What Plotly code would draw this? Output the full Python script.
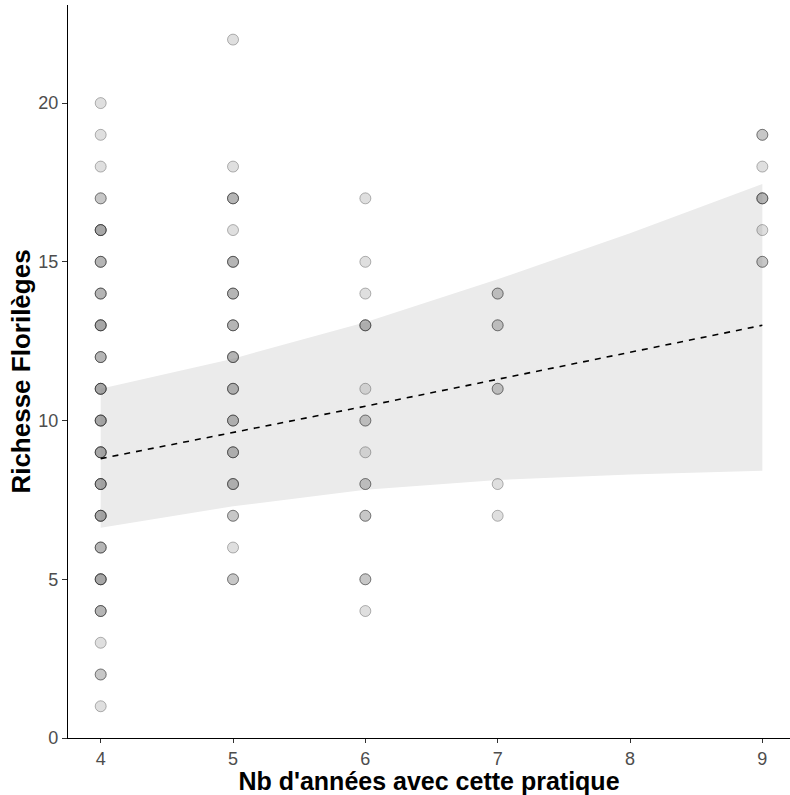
import plotly.graph_objects as go

# Observations: (years, richness, count of overlapping observations)
x4_y = [1, 2, 3, 4, 5, 6, 7, 8, 9, 10, 11, 12, 13, 14, 15, 16, 17, 18, 19, 20]
x4_n = [1, 2, 1, 3, 4, 3, 4, 4, 4, 4, 4, 3, 4, 3, 3, 4, 2, 1, 1, 1]
x5_y = [5, 6, 7, 8, 9, 10, 11, 12, 13, 14, 15, 16, 17, 18, 22]
x5_n = [2, 1, 2, 3, 3, 3, 3, 3, 3, 3, 3, 1, 3, 1, 1]
x6_y = [4, 5, 7, 8, 9, 10, 11, 13, 14, 15, 17]
x6_n = [1, 2, 2, 2, 1, 2, 1, 3, 1, 1, 1]
x7_y = [7, 8, 11, 13, 14]
x7_n = [1, 1, 2, 2, 2]
x9_y = [15, 16, 17, 18, 19]
x9_n = [2, 1, 3, 1, 2]

# Fitted model and confidence band
fit_x = [4, 5, 6, 7, 8, 9]
fit_y = [8.8, 9.62, 10.45, 11.3, 12.15, 13.0]
fit_upper = [11.0, 11.95, 13.1, 14.45, 15.9, 17.45]
fit_lower = [6.62, 7.3, 7.82, 8.13, 8.3, 8.42]

x_ticks = [4, 5, 6, 7, 8, 9]
y_ticks = [0, 5, 10, 15, 20]

pts_x, pts_y = [], []
for xv, ys, ns in [(4, x4_y, x4_n), (5, x5_y, x5_n), (6, x6_y, x6_n),
                   (7, x7_y, x7_n), (9, x9_y, x9_n)]:
    for yv, n in zip(ys, ns):
        for _ in range(n):
            pts_x.append(xv)
            pts_y.append(yv)

fig = go.Figure()
fig.add_trace(go.Scatter(
    x=fit_x + fit_x[::-1], y=fit_upper + fit_lower[::-1],
    fill="toself", fillcolor="rgb(235,235,235)", line=dict(width=0),
    mode="lines", hoverinfo="skip", showlegend=False))
fig.add_trace(go.Scatter(
    x=pts_x, y=pts_y, mode="markers", showlegend=False,
    marker=dict(size=11, color="rgba(128,128,128,0.25)",
                line=dict(color="rgba(0,0,0,0.28)", width=1))))
fig.add_trace(go.Scatter(
    x=fit_x, y=fit_y, mode="lines", showlegend=False,
    line=dict(color="black", width=1.6, dash="6px,6px")))

font_fam = "Liberation Sans, Arial, sans-serif"
fig.update_layout(
    width=790, height=795,
    margin=dict(l=68, r=0, t=5, b=57),
    paper_bgcolor="white", plot_bgcolor="white",
    font=dict(family=font_fam),
    xaxis=dict(range=[3.753, 9.209], tickvals=x_ticks,
               ticktext=[str(v) for v in x_ticks],
               showgrid=False, zeroline=False, showline=True,
               linecolor="black", linewidth=1.2, ticks="outside",
               ticklen=4, tickcolor="#333333",
               tickfont=dict(size=18, color="#4D4D4D"),
               title=dict(text="<b>Nb d'années avec cette pratique</b>",
                          font=dict(size=25, color="black"), standoff=4)),
    yaxis=dict(range=[0, 23.09], tickvals=y_ticks,
               ticktext=[str(v) for v in y_ticks],
               showgrid=False, zeroline=False, showline=True,
               linecolor="black", linewidth=1.2, ticks="outside",
               ticklen=5, tickcolor="#333333",
               tickfont=dict(size=18, color="#4D4D4D"),
               title=dict(text="<b>Richesse Florilèges</b>",
                          font=dict(size=26, color="black"), standoff=0)),
)
fig.write_html("out.html", config={"displayModeBar": False},
               post_script="document.body.style.margin='0';")
